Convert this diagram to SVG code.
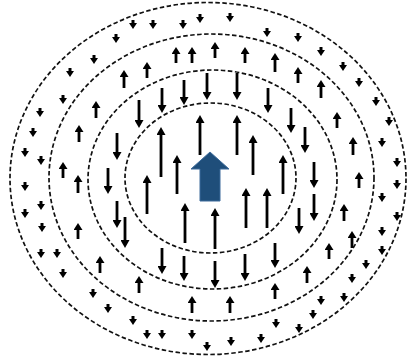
<svg xmlns="http://www.w3.org/2000/svg" width="408" height="362" viewBox="0 0 408 362">
<style>
.ring{fill:none;stroke:#111;stroke-width:1.7;stroke-dasharray:4.5 2.5}
.s{fill:none;stroke:#000;stroke-width:3;marker-end:url(#hs)}
.m{fill:none;stroke:#000;stroke-width:2.8;marker-end:url(#hm)}
.l{fill:none;stroke:#000;stroke-width:2.8;marker-end:url(#hl)}
</style>
<defs>
<marker id="hs" markerUnits="userSpaceOnUse" markerWidth="6" markerHeight="8" viewBox="0 0 6 8" refX="1" refY="4" orient="auto"><path d="M0,0 L6,4 L0,8 Z" fill="#000"/></marker>
<marker id="hm" markerUnits="userSpaceOnUse" markerWidth="7" markerHeight="9" viewBox="0 0 7 9" refX="2" refY="4.5" orient="auto"><path d="M0,0 L7,4.5 L0,9 Z" fill="#000"/></marker>
<marker id="hl" markerUnits="userSpaceOnUse" markerWidth="8" markerHeight="9" viewBox="0 0 8 9" refX="3" refY="4.5" orient="auto"><path d="M0,0 L8,4.5 L0,9 Z" fill="#000"/></marker>
</defs>
<rect width="408" height="362" fill="#fff"/>
<g id="rings">
<ellipse class="ring" cx="208" cy="178.5" rx="198" ry="176"/>
<ellipse class="ring" cx="211.5" cy="177.5" rx="162.5" ry="143.5"/>
<ellipse class="ring" cx="212.5" cy="179.5" rx="124.5" ry="109.5"/>
<ellipse class="ring" cx="210.5" cy="178" rx="85.5" ry="75"/>
</g>
<g id="outer-down">
<path class="s" d="M133,20v4"/><path class="s" d="M153,20v4"/><path class="s" d="M183,20v4"/><path class="s" d="M200,14v4"/>
<path class="s" d="M116,34v4"/><path class="s" d="M94,55v4"/><path class="s" d="M70,68v4"/><path class="s" d="M63,95v4"/>
<path class="s" d="M40,108v4"/><path class="s" d="M33,128v4"/><path class="s" d="M25,148v4"/><path class="s" d="M41,156v4"/>
<path class="s" d="M230,13v4"/><path class="s" d="M267,28v4"/><path class="s" d="M298,33v4"/><path class="s" d="M321,47v4"/>
<path class="s" d="M343,62v4"/><path class="s" d="M359,78v4"/><path class="s" d="M376,97v4"/><path class="s" d="M389,117v4"/>
<path class="s" d="M382,138v4"/><path class="s" d="M397,158v4"/>
<path class="s" d="M25,182v4"/><path class="s" d="M41,201v4"/><path class="s" d="M25,209v4"/><path class="s" d="M42,223v4"/>
<path class="s" d="M41,249v4"/><path class="s" d="M57,249v4"/><path class="s" d="M63,269v4"/><path class="s" d="M93,289v4"/>
<path class="s" d="M108,304v4"/><path class="s" d="M133,316v4"/><path class="s" d="M147,330v4"/><path class="s" d="M162,330v4"/>
<path class="s" d="M192,330v4"/>
<path class="s" d="M397,180v4"/><path class="s" d="M382,193v4"/><path class="s" d="M397,212v4"/><path class="s" d="M382,227v4"/>
<path class="s" d="M382,246v4"/><path class="s" d="M366,260v4"/><path class="s" d="M352,274v4"/><path class="s" d="M344,293v4"/>
<path class="s" d="M321,296v4"/><path class="s" d="M313,310v4"/><path class="s" d="M276,319v4"/><path class="s" d="M299,324v4"/>
<path class="s" d="M261,334v4"/><path class="s" d="M231,337v4"/><path class="s" d="M207,342v4"/>
</g>
<g id="second-up">
<path class="m" d="M176,63V52"/><path class="m" d="M192,63V52"/><path class="m" d="M147,78V67"/><path class="m" d="M124,88V75"/>
<path class="m" d="M96,118V106"/><path class="m" d="M79,142V130"/><path class="m" d="M63,178V167"/><path class="m" d="M78,193V180"/>
<path class="m" d="M78,239V228"/><path class="m" d="M100,273V261"/><path class="m" d="M139,293V281"/><path class="m" d="M192,313V301"/>
<path class="m" d="M215,58V47"/><path class="m" d="M245,63V52"/><path class="m" d="M275,72V58"/><path class="m" d="M298,83V72"/>
<path class="m" d="M321,98V85"/><path class="m" d="M337,128V117"/><path class="m" d="M353,155V142"/><path class="m" d="M359,188V177"/>
<path class="m" d="M344,221V209"/><path class="m" d="M352,248V236"/><path class="m" d="M329,259V248"/><path class="m" d="M307,283V271"/>
<path class="m" d="M275,299V288"/><path class="m" d="M230,313V301"/>
</g>
<g id="third-down">
<path class="l" d="M162,88V108"/><path class="l" d="M184,80V100"/><path class="l" d="M139,100V123"/><path class="l" d="M117,133V155"/>
<path class="l" d="M108,168V189"/><path class="l" d="M117,201V223"/><path class="l" d="M125,217V243"/><path class="l" d="M162,248V269"/>
<path class="l" d="M184,256V276"/>
<path class="l" d="M207,73V95"/><path class="l" d="M237,73V95"/><path class="l" d="M268,88V108"/><path class="l" d="M291,108V128"/>
<path class="l" d="M305,127V148"/><path class="l" d="M314,162V183"/><path class="l" d="M314,194V216"/><path class="l" d="M299,208V229"/>
<path class="l" d="M275,243V263"/><path class="l" d="M245,254V276"/><path class="l" d="M215,261V283"/>
</g>
<g id="inner-up">
<path class="l" d="M161,177V132"/><path class="l" d="M177,194V160"/><path class="l" d="M147,214V180"/><path class="l" d="M185,243V208"/>
<path class="l" d="M200,155V120"/><path class="l" d="M237,155V120"/><path class="l" d="M253,175V140"/><path class="l" d="M283,194V160"/>
<path class="l" d="M246,228V193"/><path class="l" d="M267,228V193"/><path class="l" d="M215,249V213"/>
</g>
<g id="center-arrow">
<path d="M210,152 L229,169 L220,169 L220,201 L200,201 L200,169 L191,169 Z" fill="#1F4E7A" stroke="#3C6B9B" stroke-width="1"/>
</g>
</svg>
